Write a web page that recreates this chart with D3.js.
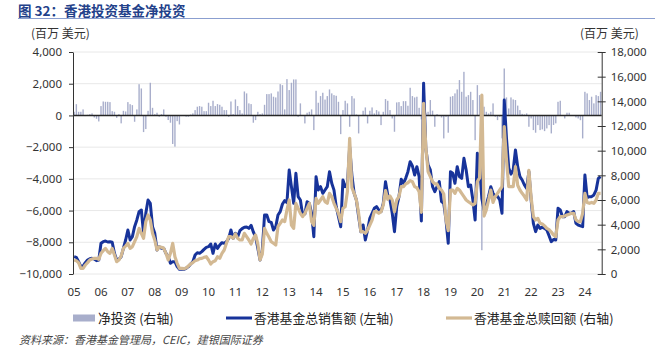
<!DOCTYPE html>
<html><head><meta charset="utf-8">
<script src="https://cdn.jsdelivr.net/npm/d3@7"></script>
<style>
html,body{margin:0;padding:0;background:#fff;}
svg{display:block;}
</style></head>
<body>
<svg id="chart" width="656" height="349"></svg>
<script>
// ---- data (monthly, Jan 2005 – Aug 2024) ----
const yearLabels = ["05","06","07","08","09","10","11","12","13","14","15","16","17","18","19","20","21","22","23","24"];

// 净投资 (bars, plotted on left scale)
const netInvestment = [
 230,710,230,230,380,-40,40,80,130,-130,-210,-380,
 590,880,860,860,840,270,230,-150,80,-500,290,250,
 840,710,650,-400,380,1970,1700,-1050,-860,290,2060,480,
 80,170,-80,80,380,-80,-290,-460,-1800,-1970,-360,-570,
 -40,-40,-80,-80,60,130,336,550,590,550,270,270,
 800,590,925,590,715,670,550,336,336,-84,880,84,
 1010,590,336,126,1510,1390,760,715,-460,-295,230,84,
 126,670,1345,1345,1390,1180,1135,1510,1975,1910,380,2290,
 1600,2060,2270,2270,-84,760,0,-505,170,230,380,-925,
 1555,800,1220,1430,1000,1220,1640,1390,1280,1240,860,-1180,
 336,925,760,-715,1220,1070,60,-1135,0,295,505,-505,
 295,505,126,336,250,-610,230,1030,925,336,-190,-1030,
 820,840,590,900,900,610,1745,1220,1135,1180,480,-250,
 1910,170,230,970,300,-715,84,-40,-130,-1450,-85,-1090,
 1180,1220,1390,1640,2230,1490,2750,1180,1280,1490,970,-1560,
 1910,1280,-8500,550,230,126,230,760,-84,-295,-84,-1450,
 2960,1135,440,1135,1010,970,620,336,100,63,126,-715,
 -190,-925,-1090,-610,-925,-880,-990,-820,-610,-1135,-600,-500,
 860,925,20,-190,170,170,20,20,-126,-190,-300,-1450,
 1490,1390,970,1180,760,1280,1220,1490
];

// 香港基金总销售额 (blue line, right scale)
const totalSales = [
 1405,1350,1000,595,650,920,1135,1240,1270,1220,1080,1135,
 2490,2620,2676,2595,2620,2570,1675,1135,1190,1405,2080,2757,
 3570,2757,3027,3838,4380,5055,5190,3300,4920,6000,5730,3838,
 3298,1946,2216,2081,2081,1676,1405,865,1000,1000,595,378,
 378,378,460,595,810,1000,1540,1730,1676,1811,1999,2162,
 2216,2433,1676,2433,2081,2351,2541,2487,2622,2892,3568,2892,
 3298,3027,3514,3676,3784,3811,3703,3946,3406,3027,2081,1135,
 1946,4784,4784,4244,4190,3568,3838,4784,5055,5676,5946,5784,
 8434,7082,5730,8163,6271,6000,4784,4865,5865,5730,4919,3027,
 7893,6812,7082,6541,6812,7082,8298,7352,6800,5460,4649,3838,
 7622,7082,7300,10300,8000,6541,6000,4649,3433,3973,2757,3568,
 4514,4919,5325,5460,5190,5055,5730,7487,6406,6000,4919,3433,
 5460,6271,7676,7352,7757,8298,9109,8757,8028,8703,7893,4300,
 15461,10138,8839,8434,7082,6676,7082,7487,5865,5730,4379,2487,
 8298,8163,7352,8703,7893,7757,9379,8433,7082,7217,6000,4379,
 9800,8700,6100,5200,5600,6300,7082,6541,6271,6300,6000,4920,
 14110,11000,8600,8100,8433,10055,8700,7893,7622,7217,6947,8300,
 6000,4109,3433,3973,3703,3800,3703,3568,3100,2622,2800,2757,
 5325,5190,4649,4650,5055,4920,4950,5055,4109,3973,3900,3838,
 8028,6200,6271,6271,6406,6800,7757,7900
];

// 香港基金总赎回额 (gold line, right scale)
const totalRedemptions = [
 1135,1080,920,460,460,730,920,1135,1215,1270,1270,1190,
 1675,1890,2080,1810,1675,2080,1540,1000,1135,1460,2080,2270,
 2487,2080,2216,2622,3027,3703,3298,2892,4244,4784,4379,3298,
 2757,1946,2216,2162,2081,1676,1135,1676,2487,1405,865,460,
 460,432,487,649,811,919,1081,1135,1243,1270,1351,1405,
 1135,811,1000,1081,1405,1270,1676,1946,2487,3027,3027,2892,
 3244,2892,2757,2757,3298,3027,2757,2433,2892,3162,2433,1135,
 1600,3703,3298,2973,2622,2487,2352,3838,4109,4379,4244,5190,
 6000,3973,3703,5730,5325,4919,4649,4919,5325,5730,4244,3950,
 6136,5730,6000,6271,5865,5730,6541,6271,5730,5325,4919,4244,
 5325,5460,6700,11000,7000,6541,6000,4920,3433,3433,3298,3568,
 3973,4379,5055,5055,4919,5055,5595,6757,6060,6325,6000,5055,
 6000,6271,7082,7082,7300,7400,7568,7487,7082,7000,6676,5000,
 13840,10273,8298,7893,7487,7300,7300,6946,6811,6487,4379,3514,
 6811,6811,6541,6947,6811,6541,6271,6000,5865,5730,5600,5730,
 7500,7800,14500,4700,5190,6000,6800,5800,6271,6541,6811,7082,
 11947,9244,7082,7082,7082,8704,7200,6811,6541,6300,6000,8400,
 6200,4649,4379,4514,4109,4050,3900,3703,3600,3400,3163,3027,
 4379,4649,4649,4700,4784,4850,4920,4920,4400,4244,4244,4920,
 6541,5800,5730,5800,5730,6000,6541,6541
];

const leftTicks = [-10000,-8000,-6000,-4000,-2000,0,2000,4000];
const rightTicks = [0,2000,4000,6000,8000,10000,12000,14000,16000,18000];

const titleText = "图 32：香港投资基金净投资";
const unitText = "(百万 美元)";
const legendItems = ["净投资 (右轴)", "香港基金总销售额 (左轴)", "香港基金总赎回额 (右轴)"];
const sourceText = "资料来源：香港基金管理局，CEIC，建银国际证券";

// ---- drawing ----
const svg = d3.select("#chart");
const L = 73, R = 601.7, T = 52, B = 274;
const N = netInvestment.length;
const cjk = "'Noto Sans CJK SC','Noto Sans',sans-serif";
const num = "'Noto Sans','Open Sans',sans-serif";

const x = d3.scaleBand().domain(d3.range(N)).range([L, R]).paddingInner(0.38).paddingOuter(0.19);
const cx = i => x(i) + x.bandwidth() / 2;
const yL = d3.scaleLinear().domain([-10000, 4000]).range([B, T]);
const yR = d3.scaleLinear().domain([0, 18000]).range([B, T]);

// title
svg.append("text").attr("x", 18).attr("y", 15.5).attr("font-family", cjk)
  .attr("font-size", 13.5).attr("font-weight", "bold").attr("fill", "#23418a").text(titleText);
svg.append("line").attr("x1", 18).attr("x2", 655).attr("y1", 18.5).attr("y2", 18.5)
  .attr("stroke", "#8b9fd0").attr("stroke-width", 1);

// units
svg.append("text").attr("x", 31).attr("y", 38).attr("font-family", cjk).attr("font-size", 12)
  .attr("fill", "#333").text(unitText);
svg.append("text").attr("x", 580).attr("y", 38).attr("font-family", cjk).attr("font-size", 12)
  .attr("fill", "#333").text(unitText);

// gridlines
svg.append("g").selectAll("line").data(leftTicks.filter(d => d !== 0)).join("line")
  .attr("x1", L).attr("x2", R).attr("y1", d => yL(d)).attr("y2", d => yL(d))
  .attr("stroke", "#e8e8e8").attr("stroke-width", 1);

// bars
svg.append("g").selectAll("rect").data(netInvestment).join("rect")
  .attr("x", (d, i) => x(i)).attr("width", x.bandwidth())
  .attr("y", d => yL(Math.max(0, d))).attr("height", d => Math.abs(yL(d) - yL(0)))
  .attr("fill", "#a8aecb");

// zero line
svg.append("line").attr("x1", L).attr("x2", R).attr("y1", yL(0)).attr("y2", yL(0))
  .attr("stroke", "#262626").attr("stroke-width", 1.4);

// lines
const lineR = d3.line().x((d, i) => cx(i)).y(d => yR(d));
svg.append("path").datum(totalSales).attr("d", lineR).attr("fill", "none")
  .attr("stroke", "#17339a").attr("stroke-width", 3).attr("stroke-linejoin", "round");
svg.append("path").datum(totalRedemptions).attr("d", lineR).attr("fill", "none")
  .attr("stroke", "#d3b993").attr("stroke-width", 3.2).attr("stroke-linejoin", "round");

// left axis
const axL = svg.append("g").attr("transform", `translate(${L},0)`)
  .call(d3.axisLeft(yL).tickValues(leftTicks).tickSize(4).tickSizeOuter(0).tickPadding(7).tickFormat(d3.format(",")));
axL.select(".domain").attr("stroke", "#333");
axL.selectAll(".tick line").attr("stroke", "#333");
axL.selectAll("text").attr("font-family", num).attr("font-size", 11.5).attr("fill", "#333");

// right axis
const axR = svg.append("g").attr("transform", `translate(${R},0)`)
  .call(d3.axisRight(yR).tickValues(rightTicks).tickSize(4).tickSizeOuter(0).tickPadding(5).tickFormat(d3.format(",")));
axR.select(".domain").attr("stroke", "#333");
axR.selectAll(".tick line").attr("stroke", "#333").attr("x1", -4);
axR.selectAll("text").attr("font-family", num).attr("font-size", 11.5).attr("fill", "#333");

// x labels
svg.append("g").selectAll("text").data(yearLabels).join("text")
  .attr("x", (d, k) => cx(k * 12)).attr("y", 296).attr("text-anchor", "middle")
  .attr("font-family", num).attr("font-size", 11.5).attr("fill", "#333").text(d => d);

// legend
const lg = svg.append("g");
lg.append("rect").attr("x", 73).attr("y", 314.5).attr("width", 22).attr("height", 7).attr("fill", "#a8aecb");
lg.append("text").attr("x", 98).attr("y", 323).attr("font-family", cjk).attr("font-size", 12.8).attr("fill", "#222").text(legendItems[0]);
lg.append("line").attr("x1", 226).attr("x2", 252).attr("y1", 318).attr("y2", 318).attr("stroke", "#17339a").attr("stroke-width", 3);
lg.append("text").attr("x", 254).attr("y", 323).attr("font-family", cjk).attr("font-size", 12.8).attr("fill", "#222").text(legendItems[1]);
lg.append("line").attr("x1", 446).attr("x2", 472).attr("y1", 318).attr("y2", 318).attr("stroke", "#d3b993").attr("stroke-width", 3.2);
lg.append("text").attr("x", 474).attr("y", 323).attr("font-family", cjk).attr("font-size", 12.8).attr("fill", "#222").text(legendItems[2]);

// source
svg.append("text").attr("x", 19).attr("y", 344).attr("font-family", cjk).attr("font-size", 11)
  .attr("font-style", "italic").attr("fill", "#444").text(sourceText);
</script>
</body></html>
